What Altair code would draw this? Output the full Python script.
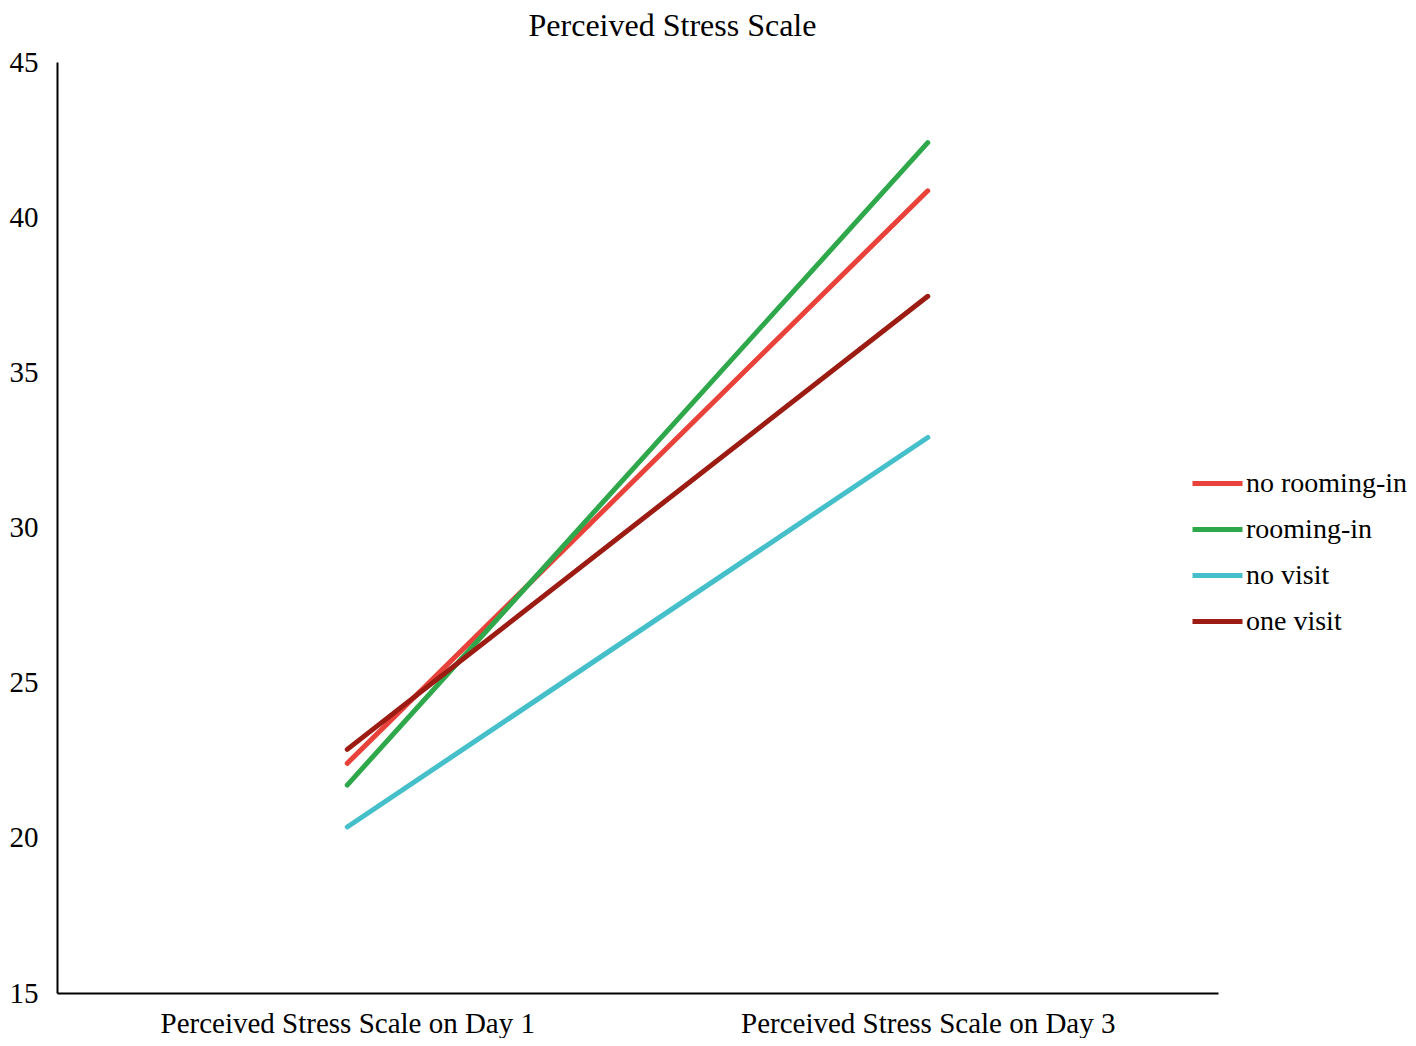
import altair as alt
import pandas as pd

timepoints = ["Perceived Stress Scale on Day 1", "Perceived Stress Scale on Day 3"]
groups = ["no rooming-in", "rooming-in", "no visit", "one visit"]
day1 = [22.4, 21.7, 20.35, 22.85]
day3 = [40.85, 42.4, 32.9, 37.45]
colors = ["#E8423A", "#2FA84B", "#45BFC9", "#9C1B12"]

rows = []
for g, a, b in zip(groups, day1, day3):
    rows.append({"time": timepoints[0], "group": g, "value": a})
    rows.append({"time": timepoints[1], "group": g, "value": b})
df = pd.DataFrame(rows)

font = "Liberation Serif"
fs = 29

chart = alt.Chart(df).mark_line(strokeWidth=5, strokeCap="round").encode(
    x=alt.X("time:N", sort=timepoints, title=None,
            scale=alt.Scale(type="point", padding=0.5),
            axis=alt.Axis(labelAngle=0, ticks=False, tickSize=0, grid=False,
                          domainColor="black", domainWidth=2, labelLimit=0,
                          labelFont=font, labelFontSize=fs, labelColor="black",
                          labelPadding=16)),
    y=alt.Y("value:Q", title=None,
            scale=alt.Scale(domain=[15, 45], nice=False, zero=False),
            axis=alt.Axis(values=[15, 20, 25, 30, 35, 40, 45], ticks=False, tickSize=0,
                          grid=False, domainColor="black", domainWidth=2,
                          labelFont=font, labelFontSize=fs, labelColor="black",
                          labelPadding=19)),
    color=alt.Color("group:N", sort=groups,
                    scale=alt.Scale(domain=groups, range=colors),
                    legend=alt.Legend(title=None, orient="none", legendX=1133, legendY=394,
                                      symbolType="stroke", symbolStrokeWidth=5,
                                      symbolSize=2500, rowPadding=4,
                                      labelFont=font, labelFontSize=28,
                                      labelColor="black", labelOffset=1,
                                      labelLimit=0, symbolOffset=0)),
    detail="group:N",
).properties(
    width=1161,
    height=931,
    title=alt.TitleParams("Perceived Stress Scale", font=font, fontSize=32,
                          fontWeight="normal", color="black", anchor="middle",
                          dx=35, offset=5),
    autosize=alt.AutoSizeParams(type="none"),
    padding={"left": 49, "top": 54, "right": 190, "bottom": 45},
).configure_view(stroke=None)

chart.save("out.html", embed_options={"renderer": "svg", "actions": False})
